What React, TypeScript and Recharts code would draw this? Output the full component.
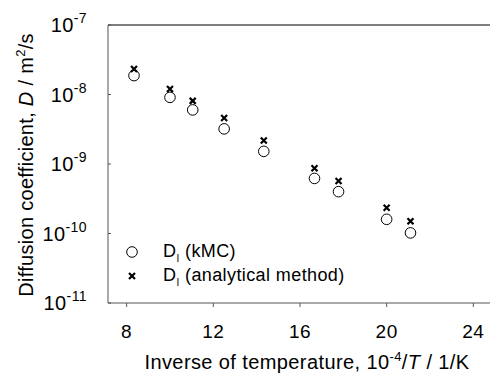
import React from "react";
import { ScatterChart, Scatter, XAxis, YAxis, ReferenceLine, Legend, Label } from "recharts";

const invTemp = [8.34, 10.0, 11.05, 12.5, 14.33, 16.67, 17.78, 20.0, 21.1];
const dKmc = [1.87e-8, 9.1e-9, 6.0e-9, 3.2e-9, 1.52e-9, 6.2e-10, 4.0e-10, 1.6e-10, 1.02e-10];
const dAnalytical = [2.33e-8, 1.2e-8, 8.1e-9, 4.6e-9, 2.18e-9, 8.7e-10, 5.7e-10, 2.34e-10, 1.5e-10];
const xTicks = [8, 12, 16, 20, 24];
const yTicks = [1e-11, 1e-10, 1e-9, 1e-8, 1e-7];

const FONT = "'Liberation Sans', Arial, sans-serif";
const AXIS = "#555";

const kmcData = invTemp.map((x, i) => ({ x, d: dKmc[i] }));
const anaData = invTemp.map((x, i) => ({ x, d: dAnalytical[i] }));

const OpenCircle = (p: any) => (
  <circle cx={p.cx} cy={p.cy} r={5.3} fill="none" stroke="#000" strokeWidth={1} />
);

const Cross = (p: any) => (
  <path
    d={`M${p.cx - 3},${p.cy - 3}L${p.cx + 3},${p.cy + 3}M${p.cx - 3},${p.cy + 3}L${p.cx + 3},${p.cy - 3}`}
    stroke="#000"
    strokeWidth={2.2}
  />
);

const YTick = (p: any) => {
  const exp = Math.round(Math.log10(p.payload.value));
  return (
    <g>
      <line x1={p.x + 21} x2={p.x + 24} y1={p.y} y2={p.y} stroke={AXIS} />
      <text x={p.x} y={p.y + 7} textAnchor="end" fontSize={20} fill="#000" fontFamily={FONT} letterSpacing={0.4}>
        10
        <tspan dy={-9} fontSize={14}>
          {exp}
        </tspan>
      </text>
    </g>
  );
};

const legendItems = [
  { label: " (kMC)", icon: "circle" },
  { label: " (analytical method)", icon: "cross" },
];

const LegendBox = () => (
  <div style={{ fontFamily: FONT, fontSize: 18, color: "#000", letterSpacing: 0.4 }}>
    {legendItems.map((it) => (
      <div key={it.label} style={{ display: "flex", alignItems: "center", height: 24 }}>
        <svg width={39} height={14} style={{ flex: "none" }}>
          {it.icon === "circle" ? <OpenCircle cx={8} cy={7} /> : <Cross cx={8} cy={7} />}
        </svg>
        <span>
          D<sub style={{ fontSize: 10 }}>I</sub>
          {it.label}
        </span>
      </div>
    ))}
  </div>
);

export default function App() {
  return (
    <div style={{ position: "absolute", left: 0, top: 0, fontFamily: FONT }}>
      <ScatterChart width={490} height={374} margin={{ top: 25, right: 0, bottom: 0, left: 0 }}>
        <XAxis
          type="number"
          dataKey="x"
          domain={[7.14, 24.77]}
          ticks={xTicks}
          allowDataOverflow
          stroke={AXIS}
          tickSize={4}
          tickMargin={18}
          height={71}
          tick={{ fill: "#000", fontSize: 19, fontFamily: FONT, letterSpacing: 0.5 }}
        >
          <Label
            content={() => (
              <text
                x={307}
                y={369}
                textAnchor="middle"
                fontSize={20}
                fill="#000"
                fontFamily={FONT}
                letterSpacing={0.4}
              >
                Inverse of temperature, 10
                <tspan dy={-8} fontSize={13}>-4</tspan>
                <tspan dy={8}>/</tspan>
                <tspan fontStyle="italic">T</tspan> / 1/K
              </text>
            )}
          />
        </XAxis>
        <YAxis
          type="number"
          dataKey="d"
          scale="log"
          domain={[1e-11, 1e-7]}
          ticks={yTicks}
          allowDataOverflow
          width={108}
          stroke={AXIS}
          tickLine={false}
          tickSize={0}
          tickMargin={21}
          tick={<YTick />}
        >
          <Label
            content={() => (
              <text
                x={33}
                y={165}
                transform="rotate(-90, 33, 165)"
                textAnchor="middle"
                fontSize={20}
                fill="#000"
                fontFamily={FONT}
                letterSpacing={0.3}
              >
                Diffusion coefficient,{"  "}
                <tspan fontStyle="italic">D</tspan> / m
                <tspan dy={-8} fontSize={13}>2</tspan>
                <tspan dy={8}>/s</tspan>
              </text>
            )}
          />
        </YAxis>
        <ReferenceLine y={1e-7} stroke="#000" strokeWidth={1.2} />
        <Scatter data={kmcData} shape={<OpenCircle />} isAnimationActive={false} />
        <Scatter data={anaData} shape={<Cross />} isAnimationActive={false} />
        <Legend
          layout="horizontal"
          verticalAlign="middle"
          content={<LegendBox />}
          wrapperStyle={{ position: "absolute", left: 124, top: 240, width: 280 }}
        />
      </ScatterChart>
    </div>
  );
}
